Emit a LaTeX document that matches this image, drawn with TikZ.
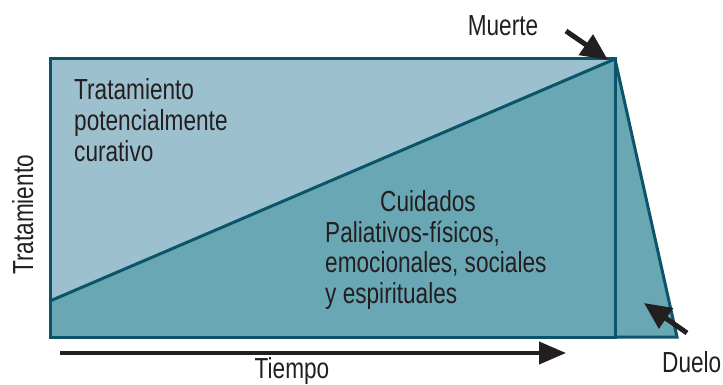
\documentclass[tikz,border=0pt]{standalone}
\usepackage{fontspec}
\setmainfont{Liberation Sans}[FakeStretch=0.78]
\usetikzlibrary{arrows.meta}
\definecolor{lightteal}{RGB}{157,192,206}
\definecolor{darkteal}{RGB}{106,167,181}
\definecolor{edgeteal}{RGB}{12,84,106}
\definecolor{inkc}{RGB}{35,31,32}
\tikzset{
  region/.style={draw=edgeteal, line width=3pt, line join=miter},
  lbl/.style={inner sep=0pt, text=inkc, font=\fontsize{29}{31}\selectfont},
  bigarrow/.style={draw=inkc, line width=5pt, -{Triangle[length=27pt,width=24pt]}},
  timearrow/.style={draw=inkc, line width=4pt, -{Triangle[length=27pt,width=22pt]}}
}
\begin{document}
\begin{tikzpicture}[x=1pt,y=-1pt]
\useasboundingbox (0,0) rectangle (723,385);
% coordinates
\coordinate (TL) at (50,59);
\coordinate (TR) at (615,59);
\coordinate (BL) at (50,337);
\coordinate (BR) at (615,337);
\coordinate (DL) at (50,301);
\coordinate (DR) at (677,337);
% regions
\fill[lightteal] (TL) -- (TR) -- (DL) -- cycle;
\fill[darkteal] (DL) -- (TR) -- (BR) -- (BL) -- cycle;
\fill[darkteal] (TR) -- (DR) -- (BR) -- cycle;
\draw[region] (TL) -- (TR) -- (BR) -- (BL) -- cycle;
\draw[region] (DL) -- (TR);
\draw[region] (TR) -- (DR) -- (BR);
% texts (base anchor of a multi-line node = last line's baseline)
\node[lbl, anchor=base west, align=left] (cur) at (74,161)
  {Tratamiento\\potencialmente\\curativo};
\node[lbl, anchor=base west, align=left, font=\fontsize{29}{30.5}\selectfont] (pal) at (325,303)
  {\hspace*{55pt}Cuidados\\Paliativos-físicos,\\emocionales, sociales\\y espirituales};
\node[lbl, anchor=base, rotate=90] (trat) at (33,215) {Tratamiento};
\node[lbl, anchor=base] (muerte) at (503,36) {Muerte};
\node[lbl, anchor=base west] (duelo) at (662,372) {Duelo};
\node[lbl, anchor=base] (tiempo) at (292,378) {Tiempo};
% arrows
\coordinate (mA) at (566,31);
\coordinate (mB) at (608,60);
\coordinate (dA) at (687,333);
\coordinate (dB) at (644,303);
\coordinate (tA) at (60,353);
\coordinate (tB) at (566,353);
\draw[bigarrow] (mA) -- (mB);
\draw[bigarrow] (dA) -- (dB);
\draw[timearrow] (tA) -- (tB);
\end{tikzpicture}
\end{document}
